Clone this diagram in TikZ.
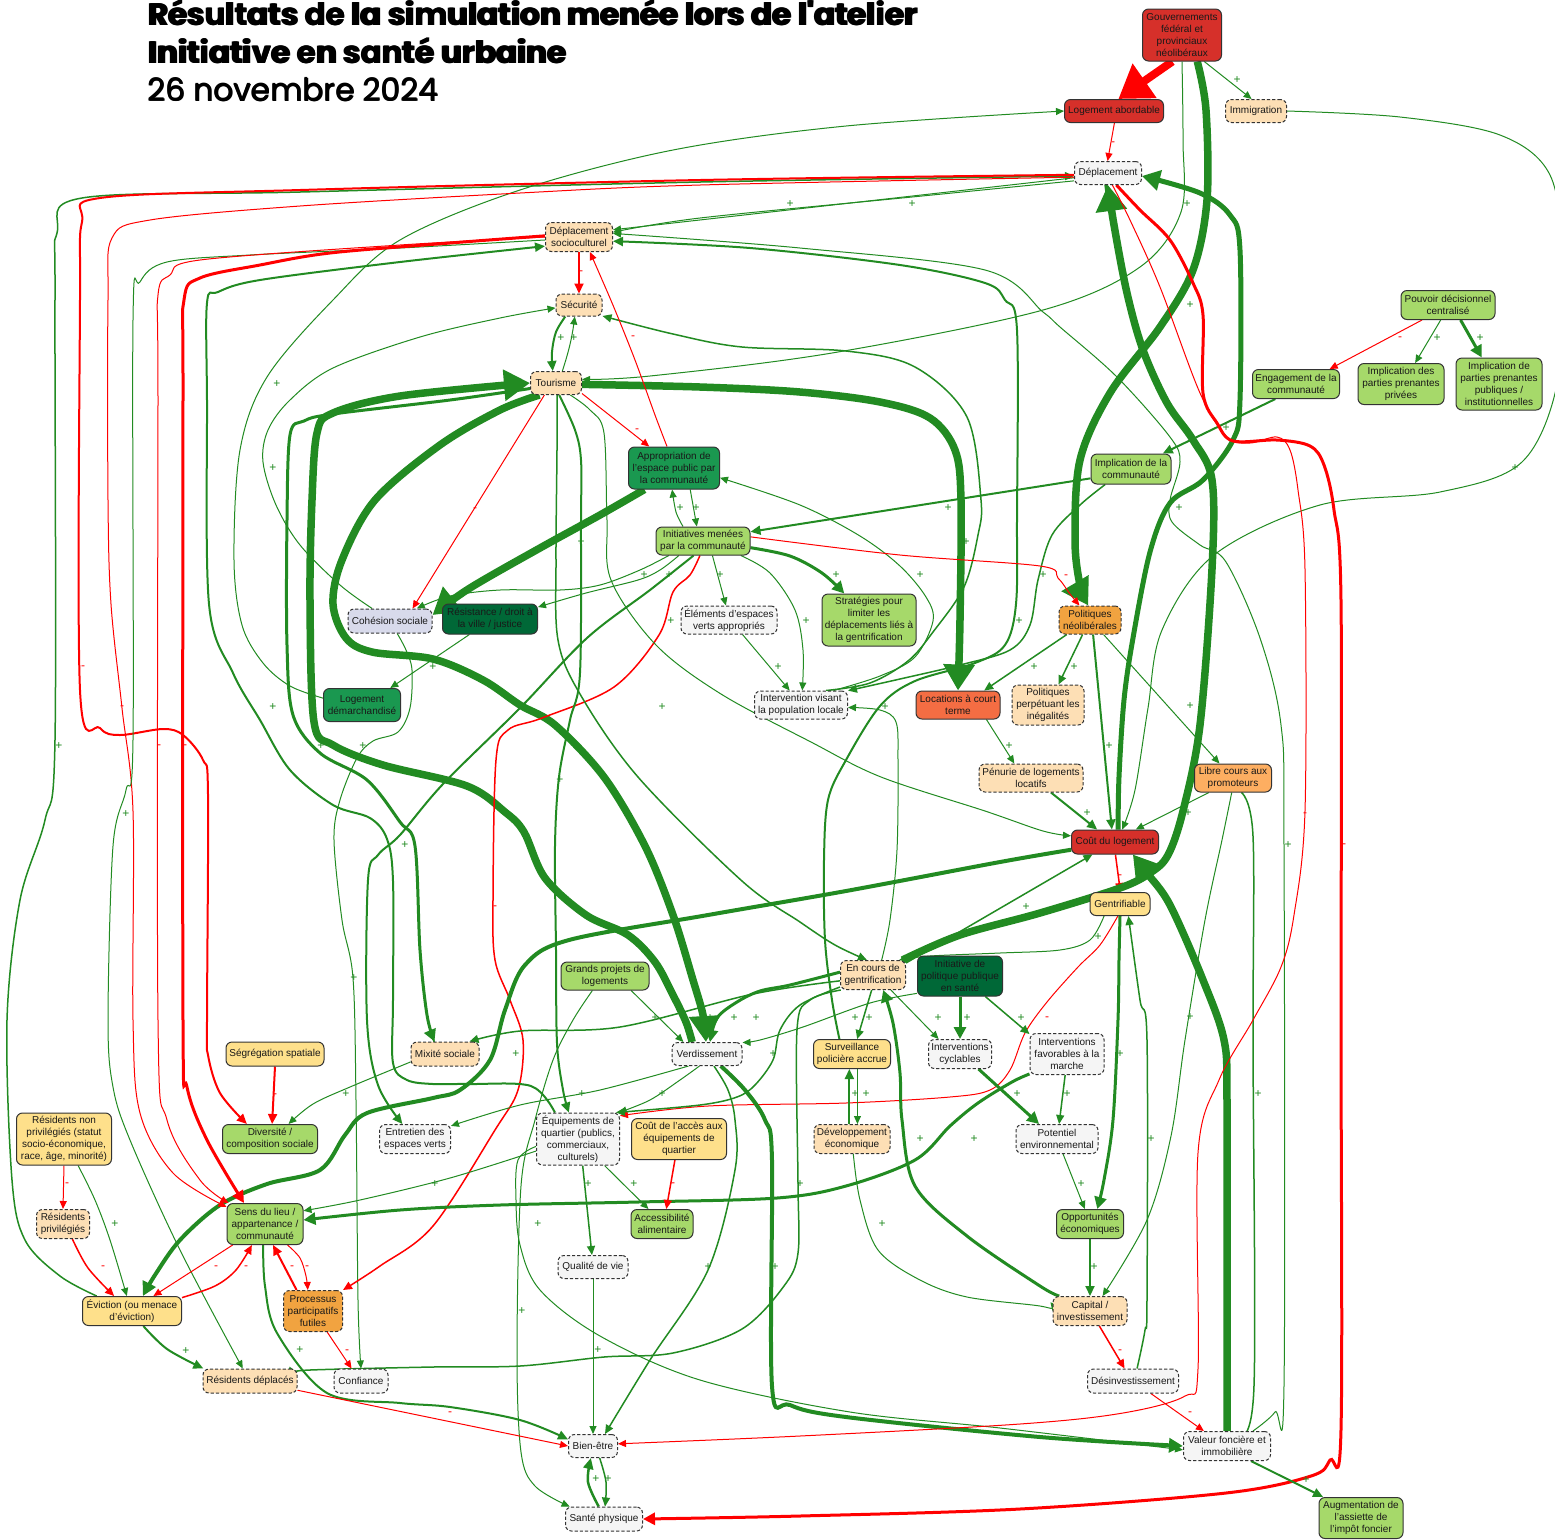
\documentclass[tikz,border=0pt]{standalone}
\usepackage{fontspec}
\setmainfont{Liberation Sans}
\newfontfamily\titlefont{Poppins}
\usetikzlibrary{arrows.meta}
\pgfdeclarelayer{bg}
\pgfsetlayers{bg,main}
\definecolor{gc}{HTML}{228B22}
\definecolor{rc}{HTML}{FF0000}
\definecolor{nred}{HTML}{D6302A}
\definecolor{ngl}{HTML}{A6D96A}
\definecolor{ngm}{HTML}{1A9850}
\definecolor{ngd}{HTML}{006837}
\definecolor{npe}{HTML}{FDDFB5}
\definecolor{nye}{HTML}{FEE08B}
\definecolor{nor}{HTML}{F1A340}
\definecolor{nlo}{HTML}{FDAE61}
\definecolor{nor2}{HTML}{F46D43}
\definecolor{ngr}{HTML}{F5F5F5}
\definecolor{nlv}{HTML}{D8DAEB}
\newcommand\nd[8]{\node[#1,fill=#2,minimum width=#3*0.5pt,minimum height=#4*0.5pt] (#5) at (#6,#7) {#8};}
\newcommand\ep[2]{\draw[#1] plot[smooth,tension=.55] coordinates {#2};}
\newcommand\ttlA{Résultats de la simulation menée lors de l'atelier}
\newcommand\ttlB{Initiative en santé urbaine}
\newcommand\ttlC{26 novembre 2024}
\begin{document}
\begin{tikzpicture}[x=0.5pt,y=-0.5pt,
 bx/.style={rectangle, rounded corners=3pt, draw=black!80, line width=0.5pt, align=center, inner sep=0.5pt, font=\fontsize{5}{6}\selectfont, text=black!90},
 sb/.style={bx},
 db/.style={bx, dash pattern=on 1.6pt off 1pt},
 ed/.style n args={3}{line width=#1, -{Triangle[length=#2,width=#3]}},
 g1/.style={draw=gc, ed={0.5pt}{4pt}{3.5pt}},
 g15/.style={draw=gc, ed={0.75pt}{4.5pt}{4pt}},
 g2/.style={draw=gc, ed={1pt}{5pt}{4.5pt}},
 g25/.style={draw=gc, ed={1.25pt}{5.5pt}{5pt}},
 g3/.style={draw=gc, ed={1.5pt}{6pt}{6pt}},
 g4/.style={draw=gc, ed={2pt}{7pt}{7pt}},
 g5/.style={draw=gc, ed={2.5pt}{9pt}{10pt}},
 g7/.style={draw=gc, ed={3.75pt}{13pt}{15pt}},
 r1/.style={draw=rc, ed={0.5pt}{4pt}{3.5pt}},
 r15/.style={draw=rc, ed={0.75pt}{4.5pt}{4pt}},
 r2/.style={draw=rc, ed={1pt}{5pt}{4.5pt}},
 r3/.style={draw=rc, ed={1.5pt}{6pt}{6pt}},
 r8/.style={draw=rc, ed={4pt}{16pt}{20pt}},
 lp/.style={text=gc, font=\fontsize{6}{6}\selectfont, inner sep=0pt},
 lm/.style={text=rc, font=\fontsize{6}{6}\selectfont, inner sep=0pt},
 tt/.style={anchor=base west, inner sep=0pt, text=black},
 tb/.style={tt, font=\titlefont\bfseries\fontsize{15.5}{15.5}\selectfont},
 tm/.style={tt, font=\titlefont\fontsize{15.6}{15.6}\selectfont}
]
\useasboundingbox (0,0) rectangle (1555,1539);
% title (overprinted copies give the heavy weight)
\node[tb] (t1) at (147,25) {\ttlA};
\node[tb] (t1b) at (148,25) {\ttlA};
\node[tb] (t1c) at (148.8,25) {\ttlA};
\node[tb] (t2) at (147,63) {\ttlB};
\node[tb] (t2b) at (148,63) {\ttlB};
\node[tb] (t2c) at (148.8,63) {\ttlB};
\node[tm] (t3) at (147,101) {\ttlC};
\node[tm] (t3b) at (148,101) {\ttlC};
\node[tm] (t3c) at (147.5,100.5) {\ttlC};
% nodes
\nd{sb}{nred}{79}{52}{gouv}{1182}{35}{Gouvernements\\fédéral et\\provinciaux\\néolibéraux}
\nd{sb}{nred}{99}{23}{logab}{1114}{111}{Logement abordable}
\nd{db}{npe}{61}{23}{immig}{1256}{111}{Immigration}
\nd{db}{ngr}{67}{23}{depl}{1108}{173}{Déplacement}
\nd{db}{npe}{67}{29}{deplsc}{579}{237}{Déplacement\\socioculturel}
\nd{db}{npe}{46}{22}{secu}{579}{305}{Sécurité}
\nd{db}{npe}{51}{23}{tour}{556}{383}{Tourisme}
\nd{sb}{ngm}{91}{42}{approp}{674}{468}{Appropriation de\\l'espace public par\\la communauté}
\nd{sb}{ngl}{94}{28}{initcom}{703}{541}{Initiatives menées\\par la communauté}
\nd{db}{nlv}{84}{24}{cohes}{390}{621}{Cohésion sociale}
\nd{sb}{ngd}{95}{30}{resist}{490}{619}{Résistance / droit à\\la ville / justice}
\nd{sb}{ngm}{77}{33}{logdem}{362}{705}{Logement\\démarchandisé}
\nd{db}{ngr}{96}{28}{elemev}{729}{620}{Éléments d'espaces\\verts appropriés}
\nd{sb}{ngl}{94}{52}{strat}{869}{620}{Stratégies pour\\limiter les\\déplacements liés à\\la gentrification}
\nd{db}{ngr}{93}{28}{interv}{801}{705}{Intervention visant\\la population locale}
\nd{sb}{nor2}{84}{28}{locat}{958}{705}{Locations à court\\terme}
\nd{db}{npe}{72}{40}{polperp}{1048}{705}{Politiques\\perpétuant les\\inégalités}
\nd{db}{nor}{62}{28}{polneo}{1090}{620}{Politiques\\néolibérales}
\nd{sb}{ngl}{80}{30}{implcom}{1131}{469}{Implication de la\\communauté}
\nd{sb}{ngl}{87}{29}{engcom}{1296}{384}{Engagement de la\\communauté}
\nd{sb}{ngl}{86}{41}{implpriv}{1401}{384}{Implication des\\parties prenantes\\privées}
\nd{sb}{ngl}{86}{52}{implpub}{1499}{384}{Implication de\\parties prenantes\\publiques /\\institutionnelles}
\nd{sb}{ngl}{94}{29}{pouvoir}{1448}{305}{Pouvoir décisionnel\\centralisé}
\nd{db}{npe}{104}{28}{penurie}{1031}{778}{Pénurie de logements\\locatifs}
\nd{sb}{nlo}{77}{28}{libre}{1233}{778}{Libre cours aux\\promoteurs}
\nd{sb}{nred}{87}{24}{cout}{1115}{842}{Coût du logement}
\nd{sb}{nye}{60}{23}{gentrif}{1120}{904}{Gentrifiable}
\nd{db}{npe}{65}{29}{encours}{873}{975}{En cours de\\gentrification}
\nd{sb}{ngd}{85}{40}{initpol}{960}{976}{Initiative de\\politique publique\\en santé}
\nd{sb}{ngl}{88}{28}{grands}{605}{976}{Grands projets de\\logements}
\nd{db}{ngr}{70}{23}{verd}{707}{1054}{Verdissement}
\nd{sb}{nye}{77}{29}{surv}{852}{1054}{Surveillance\\policière accrue}
\nd{db}{ngr}{63}{29}{cycl}{960}{1054}{Interventions\\cyclables}
\nd{db}{ngr}{74}{41}{marche}{1067}{1054}{Interventions\\favorables à la\\marche}
\nd{sb}{nye}{98}{24}{segr}{275}{1054}{Ségrégation spatiale}
\nd{db}{npe}{68}{24}{mixite}{445}{1054}{Mixité sociale}
\nd{sb}{ngl}{95}{29}{divers}{270}{1139}{Diversité /\\composition sociale}
\nd{db}{ngr}{71}{29}{entret}{415}{1139}{Entretien des\\espaces verts}
\nd{db}{ngr}{83}{52}{equip}{578}{1139}{Équipements de\\quartier (publics,\\commerciaux,\\culturels)}
\nd{sb}{nye}{95}{41}{coutacc}{679}{1139}{Coût de l'accès aux\\équipements de\\quartier}
\nd{db}{npe}{76}{29}{devec}{852}{1139}{Développement\\économique}
\nd{db}{ngr}{82}{29}{potent}{1057}{1139}{Potentiel\\environnemental}
\nd{sb}{nye}{95}{52}{resnp}{64}{1139}{Résidents non\\privilégiés (statut\\socio-économique,\\race, âge, minorité)}
\nd{db}{npe}{53}{29}{respriv}{63}{1224}{Résidents\\privilégiés}
\nd{sb}{ngl}{76}{41}{sens}{265}{1224}{Sens du lieu /\\appartenance /\\communauté}
\nd{sb}{ngl}{62}{29}{accal}{662}{1224}{Accessibilité\\alimentaire}
\nd{sb}{ngl}{67}{29}{opport}{1090}{1224}{Opportunités\\économiques}
\nd{db}{ngr}{70}{23}{qualite}{593}{1267}{Qualité de vie}
\nd{sb}{nye}{99}{29}{eviction}{132}{1311}{Éviction (ou menace\\d'éviction)}
\nd{db}{nor}{59}{41}{proc}{313}{1311}{Processus\\participatifs\\futiles}
\nd{db}{npe}{74}{29}{capital}{1090}{1311}{Capital /\\investissement}
\nd{db}{npe}{94}{24}{resdep}{250}{1381}{Résidents déplacés}
\nd{db}{ngr}{54}{24}{confi}{361}{1381}{Confiance}
\nd{db}{ngr}{91}{24}{desinv}{1133}{1381}{Désinvestissement}
\nd{db}{ngr}{49}{23}{bienetre}{593}{1446}{Bien-être}
\nd{db}{ngr}{87}{29}{valeur}{1227}{1446}{Valeur foncière et\\immobilière}
\nd{db}{ngr}{77}{24}{sante}{604}{1519}{Santé physique}
\nd{sb}{ngl}{84}{41}{augm}{1361}{1518}{Augmentation de\\l'assiette de\\l'impôt foncier}
% labels
\foreach \a/\b [count=\i] in {277/384,273/468,790/204,912/204,561/338,574/338,680/508,696/508,948/508,1237/80,1187/204,1190/305,1437/338,1480/338,1226/428,1515/468,1179/508,433/667,273/707,59/746,321/746,363/746,126/814,405/845,354/978,966/542,581/542,644/575,669/575,720/575,836/575,920/575,671/621,806/621,1019/621,778/667,1034/667,662/707,885/707,1009/746,574/746,560/780,1026/907,655/1018,710/1018,734/1018,756/1018,855/1018,869/1018,938/1018,967/1018,1021/1018,1043/575,1074/667,1190/706,1109/746,1087/813,1188/813,1288/845,1098/937,1190/1017,346/1094,516/1054,115/1224,435/1184,186/1351,300/1350,773/1054,582/1094,662/1094,855/1094,866/1094,1017/1094,588/1184,634/1184,800/1184,920/1139,974/1139,538/1224,882/1224,708/1267,775/1267,522/1311,598/1350,596/1479,608/1479,1120/1054,1067/1094,1258/1094,1151/1139,1081/1184,1094/1267,1306/1480}
  \node[lp] (lp\i) at (\a,\b) {+};
\foreach \a/\b [count=\i] in {1150/81,1113/144,581/273,633/338,637/431,475/510,1400/339,83/668,122/708,159/747,185/747,495/908,1066/577,1305/815,1344/846,1120/877,1047/1019,275/1096,67/1185,103/1268,216/1268,246/1268,292/1268,307/1268,347/1352,450/1414,673/1185,1120/1352,1190/1414}
  \node[lm] (lm\i) at (\a,\b) {-};
\begin{pgfonlayer}{bg}
\fill[white] (0,0) rectangle (1555,1539);
% top
\draw[r8] (gouv.250) -- (logab.70);
\draw[g1] (gouv.-50) -- (immig.110);
\ep{g1}{(gouv.-90) (1183,140) (1181,212) (1140,267) (1043,310) (832,353) (650,376) (tour.8)}
\ep{g7}{(gouv.-60) (1206,110) (1207,200) (1193,270) (1160,327) (1110,393) (1080,460) (1075,540) (1080,585) (polneo.97)}
\draw[r1] (logab.-88) -- (depl.92);
\ep{g1}{(logdem.170) (290,686) (263,663) (242,625) (234,560) (240,450) (267,377) (333,300) (400,240) (520,190) (673,150) (846,126) (logab.180)}
\ep{g1}{(immig.0) (1400,117) (1500,135) (1550,175) (1562,260) (1558,380) (1522,462) (1440,492) (1320,505) (1214,555) (1162,630) (1148,708) (1135,790) (cout.60)}
\draw[r1] (pouvoir.210) -- (engcom.24);
\draw[g1] (pouvoir.244) -- (implpriv.56);
\draw[g3] (pouvoir.-50) -- (implpub.123);
\draw[g2] (engcom.216) -- (implcom.26);
\draw[g2] (implcom.193) -- (initcom.11);
\ep{g15}{(implcom.211) (1080,505) (1052,535) (1038,580) (1030,625) (1010,650) (960,665) (900,679) (interv.17)}
\ep{g2}{(surv.130) (832,1000) (825,940) (824,860) (828,800) (846,760) (880,706) (915,681) (975,663) (1005,645) (1016,604) (1017,520) (1017,330) (1005,300) (985,283) (900,265) (750,248) (deplsc.-7)}
\ep{g1}{(encours.60) (890,920) (897,850) (898,760) (896,722) (880,710) (interv.-3)}
\ep{g1}{(interv.24) (880,676) (915,657) (933,621) (926,597) (900,566) (860,536) (800,505) (approp.-12)}
\ep{g15}{(interv.30) (870,683) (908,661) (933,632) (964,587) (978,535) (981,500) (967,417) (915,367) (846,351) (742,347) (673,334) (secu.-25)}
\ep{g7}{(tour.-3) (700,387) (800,392) (880,402) (930,418) (955,450) (961,500) (960,620) (locat.90)}
\draw[r1] (tour.226) -- (cohes.29);
\ep{g7}{(approp.216) (600,515) (540,548) (470,588) (cohes.8)}
\ep{g1}{(initcom.203) (640,570) (600,585) (560,590) (500,590) (450,596) (cohes.25)}
\ep{g1}{(initcom.211) (660,570) (638,580) (586,593) (resist.14)}
\draw[g1] (resist.217) -- (logdem.31);
\ep{g1}{(cohes.-60) (406,650) (412,670) (410,708) (398,732) (373,741) (357,758) (340,800) (334,840) (342,920) (353,978) (356,1100) (358,1300) (confi.90)}
\ep{g1}{(cohes.145) (340,585) (300,545) (276,505) (263,462) (268,430) (290,400) (333,368) (420,337) (500,318) (secu.187)}
\ep{g7}{(verd.141) (686,1022) (673,995) (655,962) (628,935) (586,915) (545,878) (524,832) (505,812) (467,786) (383,765) (333,745) (314,722) (310,600) (312,500) (317,433) (333,413) (400,396) (tour.180)}
\ep{g7}{(tour.216) (500,410) (440,445) (375,500) (342,560) (333,604) (346,638) (372,652) (433,659) (483,680) (520,705) (555,725) (604,777) (645,846) (673,915) (693,980) (703,1015) (verd.95)}
\ep{g3}{(tour.192) (450,400) (333,414) (304,421) (290,435) (287,520) (287,645) (293,715) (320,753) (367,780) (400,822) (415,846) (420,950) (427,1015) (mixite.130)}
\draw[r1] (tour.-22) -- (approp.139);
\ep{r1}{(approp.108) (655,415) (635,360) (615,310) (600,275) (deplsc.-54)}
\draw[r2] (deplsc.-90) -- (secu.90);
\ep{g2}{(secu.220) (556,332) (552,352) (tour.105)}
\draw[g1] (tour.62) to[bend right=5] (secu.250);
\draw[g1] (approp.-53) -- (initcom.113);
\ep{g1}{(initcom.144) (676,512) (approp.265)}
\draw[g1] (initcom.-57) -- (elemev.102);
\draw[g1] (elemev.-47) -- (interv.128);
\ep{g1}{(initcom.-21) (770,573) (795,610) (803,650) (interv.85)}
\ep{g3}{(initcom.-8) (790,556) (822,573) (strat.133)}
\ep{r1}{(initcom.5) (900,555) (1040,566) (1058,578) (1070,594) (polneo.126)}
\ep{g2}{(initcom.237) (650,590) (587,638) (520,708) (443,784) (400,835) (378,855) (368,880) (367,1020) (378,1085) (entret.130)}
\ep{r15}{(initcom.258) (690,575) (673,592) (659,635) (614,687) (542,718) (508,730) (496,760) (493,900) (495,960) (510,1000) (523,1040) (518,1090) (495,1130) (433,1226) (380,1266) (proc.35)}
\draw[g15] (polneo.212) -- (locat.29);
\draw[g15] (polneo.243) -- (polperp.63);
\draw[g2] (polneo.-78) -- (cout.104);
\draw[g1] (polneo.-47) -- (libre.133);
\draw[g1] (locat.-27) -- (penurie.139);
\draw[g2] (penurie.-36) -- (cout.145);
\draw[g1] (libre.211) -- (cout.31);
\draw[r15] (cout.-88) -- (gentrif.88);
\ep{g5}{(cout.76) (1119,777) (1124,700) (1133,638) (1150,552) (1170,503) (1203,480) (1233,440) (1240,400) (1240,250) (1230,215) (1200,193) (depl.-5)}
\ep{g7}{(encours.27) (960,935) (1040,913) (1120,888) (1150,873) (1168,855) (1183,811) (1200,725) (1212,569) (1212,480) (1193,440) (1167,403) (1143,350) (1127,293) (1114,225) (depl.270)}
\ep{g7}{(valeur.90) (1227,1300) (1227,1100) (1224,1040) (1203,980) (1170,905) (1147,873) (cout.-35)}
\ep{g4}{(cout.190) (1000,862) (846,891) (708,915) (569,940) (525,965) (505,1010) (490,1060) (460,1090) (433,1098) (367,1113) (345,1135) (320,1170) (267,1184) (220,1205) (180,1240) (155,1275) (eviction.54)}
\ep{g3}{(marche.208) (1012,1082) (978,1103) (950,1126) (915,1160) (846,1186) (777,1198) (638,1202) (500,1205) (400,1210) (sens.6)}
\ep{g1}{(equip.196) (450,1178) (360,1200) (sens.19)}
\ep{g1}{(verd.213) (600,1090) (520,1105) (entret.20)}
\ep{g1}{(verd.238) (680,1080) (650,1100) (equip.33)}
\ep{r1}{(gentrif.-100) (1100,945) (1078,967) (1047,1002) (1025,1033) (1010,1070) (990,1090) (950,1097) (846,1103) (708,1106) (equip.29)}
\draw[g1] (grands.-29) -- (verd.153);
\ep{g1}{(grands.229) (573,1020) (553,1060) (535,1120) (521,1186) (517,1353) (521,1452) (535,1486) (sante.160)}
\ep{g3}{(encours.175) (790,985) (760,991) (737,1002) (717,1018) (verd.76)}
\ep{g15}{(encours.190) (753,994) (620,1027) (520,1031) (mixite.27)}
\ep{g15}{(encours.200) (800,1005) (780,1030) (773,1060) (755,1085) (737,1097) (700,1105) (equip.35)}
\draw[g15] (encours.-95) -- (surv.71);
\draw[g1] (surv.-70) -- (devec.70);
\draw[g2] (devec.100) -- (surv.-100);
\ep{g3}{(capital.154) (1040,1286) (967,1236) (915,1186) (902,1120) (900,1073) (893,1023) (encours.-56)}
\ep{g15}{(encours.205) (810,1000) (797,1030) (798,1183) (798,1253) (784,1286) (742,1329) (673,1353) (604,1357) (520,1366) (433,1367) (310,1370) (resdep.10)}
\ep{g1}{(initpol.202) (870,1003) (803,1027) (760,1040) (verd.18)}
\draw[g3] (initpol.-90) -- (cycl.90);
\draw[g15] (initpol.-39) -- (marche.152);
\draw[g1] (encours.-40) -- (cycl.145);
\ep{g1}{(gentrif.217) (1090,940) (1060,950) (1000,953) (930,956) (encours.30)}
\draw[g15] (encours.20) -- (cout.209);
\ep{g3}{(gentrif.-90) (1119,960) (1118,1020) (1113,1120) (1104,1180) (opport.64)}
\ep{g15}{(desinv.72) (1145,1330) (1147,1300) (1147,1040) (1140,1000) (gentrif.-55)}
\draw[g1] (potent.-68) -- (opport.109);
\draw[g15] (marche.-95) -- (potent.82);
\draw[g3] (cycl.-39) -- (potent.140);
\draw[g2] (opport.-90) -- (capital.90);
\ep{g1}{(libre.-95) (1222,840) (1205,920) (1185,1040) (1171,1136) (1147,1220) (capital.50)}
\ep{g15}{(libre.-60) (1253,836) (1253,1040) (1254,1386) (valeur.50)}
\ep{g1}{(valeur.30) (1275,1412) (1284,1386) (1284,846) (1281,725) (1260,638) (1226,562) (1200,545) (1172,522) (1170,500) (1180,462) (1170,437) (1117,377) (1060,327) (1043,312) (985,270) (800,248) (deplsc.6)}
\draw[g1] (depl.188) -- (deplsc.12);
\ep{g1}{(depl.193) (912,197) (700,218) (deplsc.8)}
\ep{g15}{(eviction.157) (60,1276) (25,1240) (12,1180) (7,1020) (20,900) (45,820) (55,740) (55,300) (57,233) (82,198) (300,192) (700,182) (depl.185)}
\ep{r2}{(depl.183) (700,180) (300,190) (100,198) (82,222) (80,300) (80,690) (100,728) (120,735) (163,729) (183,735) (203,760) (208,794) (207,1020) (208,1055) (220,1093) (divers.147)}
\ep{r1}{(depl.187) (700,185) (520,193) (300,206) (150,220) (112,238) (108,300) (108,500) (111,604) (122,708) (133,811) (133,1020) (140,1113) (173,1173) (sens.156)}
\ep{g1}{(deplsc.185) (400,248) (250,255) (167,262) (140,282) (133,320) (133,740) (126,790) (113,846) (108,1020) (113,1087) (130,1140) (180,1250) (resdep.120)}
\ep{r1}{(deplsc.180) (400,245) (200,260) (170,275) (158,295) (158,400) (158,1020) (167,1120) (200,1180) (sens.150)}
\ep{r3}{(deplsc.178) (450,243) (330,253) (260,265) (200,278) (184,300) (183,400) (183,1020) (187,1087) (207,1140) (sens.135)}
\ep{g2}{(equip.131) (531,1086) (470,1084) (433,1084) (407,1080) (393,1063) (393,1000) (393,881) (387,839) (370,818) (333,805) (290,770) (260,720) (233,673) (209,604) (207,400) (207,303) (218,292) (260,280) (400,262) (deplsc.195)}
\ep{g1}{(equip.190) (518,1160) (516,1200) (520,1245) (540,1290) (600,1336) (700,1380) (850,1412) (1000,1428) (valeur.185)}
\ep{g4}{(verd.-41) (745,1090) (765,1120) (772,1160) (772,1386) (790,1405) (846,1417) (1040,1437) (valeur.180)}
\ep{g15}{(verd.-60) (728,1090) (735,1120) (735,1170) (708,1270) (650,1360) (bienetre.45)}
\draw[g15] (equip.-80) -- (qualite.95);
\draw[g1] (equip.-45) -- (accal.132);
\draw[r15] (coutacc.259) -- (accal.74);
\draw[g1] (qualite.-90) -- (bienetre.90);
\ep{g15}{(bienetre.-61) (606,1482) (sante.85)}
\ep{g25}{(sante.113) (588,1482) (bienetre.-100)}
\ep{g2}{(sens.-95) (265,1286) (277,1333) (327,1393) (400,1403) (450,1407) (520,1420) (bienetre.165)}
\draw[r1] (resdep.-11) -- (bienetre.180);
\ep{r1}{(depl.-70) (1130,220) (1160,287) (1200,393) (1227,437) (1250,443) (1277,437) (1290,450) (1298,490) (1305,569) (1305,811) (1294,915) (1281,967) (1253,1020) (1219,1080) (1198,1153) (1198,1369) (1185,1396) (1123,1413) (1020,1424) (800,1436) (bienetre.5)}
\ep{r3}{(depl.-55) (1140,210) (1170,240) (1193,283) (1203,315) (1203,393) (1217,423) (1233,441) (1277,440) (1310,446) (1324,465) (1334,510) (1341,600) (1341,1020) (1341,1430) (1330,1460) (1311,1476) (1226,1493) (1020,1509) (800,1516) (sante.0)}
\draw[r1] (resnp.-90) -- (respriv.90);
\ep{g1}{(resnp.-62) (95,1200) (110,1240) (eviction.109)}
\ep{r15}{(respriv.-58) (88,1268) (eviction.140)}
\draw[r1] (sens.213) -- (eviction.35);
\ep{r15}{(eviction.15) (215,1286) (236,1270) (sens.238)}
\ep{r1}{(sens.-43) (300,1258) (306,1276) (proc.104)}
\draw[r2] (proc.128) -- (sens.-69);
\draw[r1] (proc.-56) -- (confi.127);
\ep{g2}{(eviction.-53) (167,1349) (resdep.165)}
\ep{g1}{(mixite.193) (350,1087) (313,1104) (divers.39)}
\draw[r2] (segr.-90) -- (divers.82);
\draw[r15] (capital.-58) -- (desinv.124);
\draw[r1] (desinv.-35) -- (valeur.147);
\ep{g1}{(devec.-85) (860,1200) (878,1250) (920,1280) (967,1297) (1040,1306) (capital.180)}
\draw[g2] (valeur.-32) -- (augm.151);
\ep{g15}{(tour.-85) (557,450) (556,560) (558,640) (580,694) (638,777) (742,881) (800,922) (835,945) (encours.112)}
\ep{g2}{(tour.-75) (575,430) (581,460) (581,520) (580,673) (570,720) (559,777) (555,846) (556,950) (557,1043) (563,1090) (equip.109)}
\ep{g1}{(tour.-40) (590,410) (604,433) (607,520) (611,580) (656,645) (721,694) (811,742) (881,777) (985,811) (1043,831) (cout.172)}
\end{pgfonlayer}
\end{tikzpicture}
\end{document}
